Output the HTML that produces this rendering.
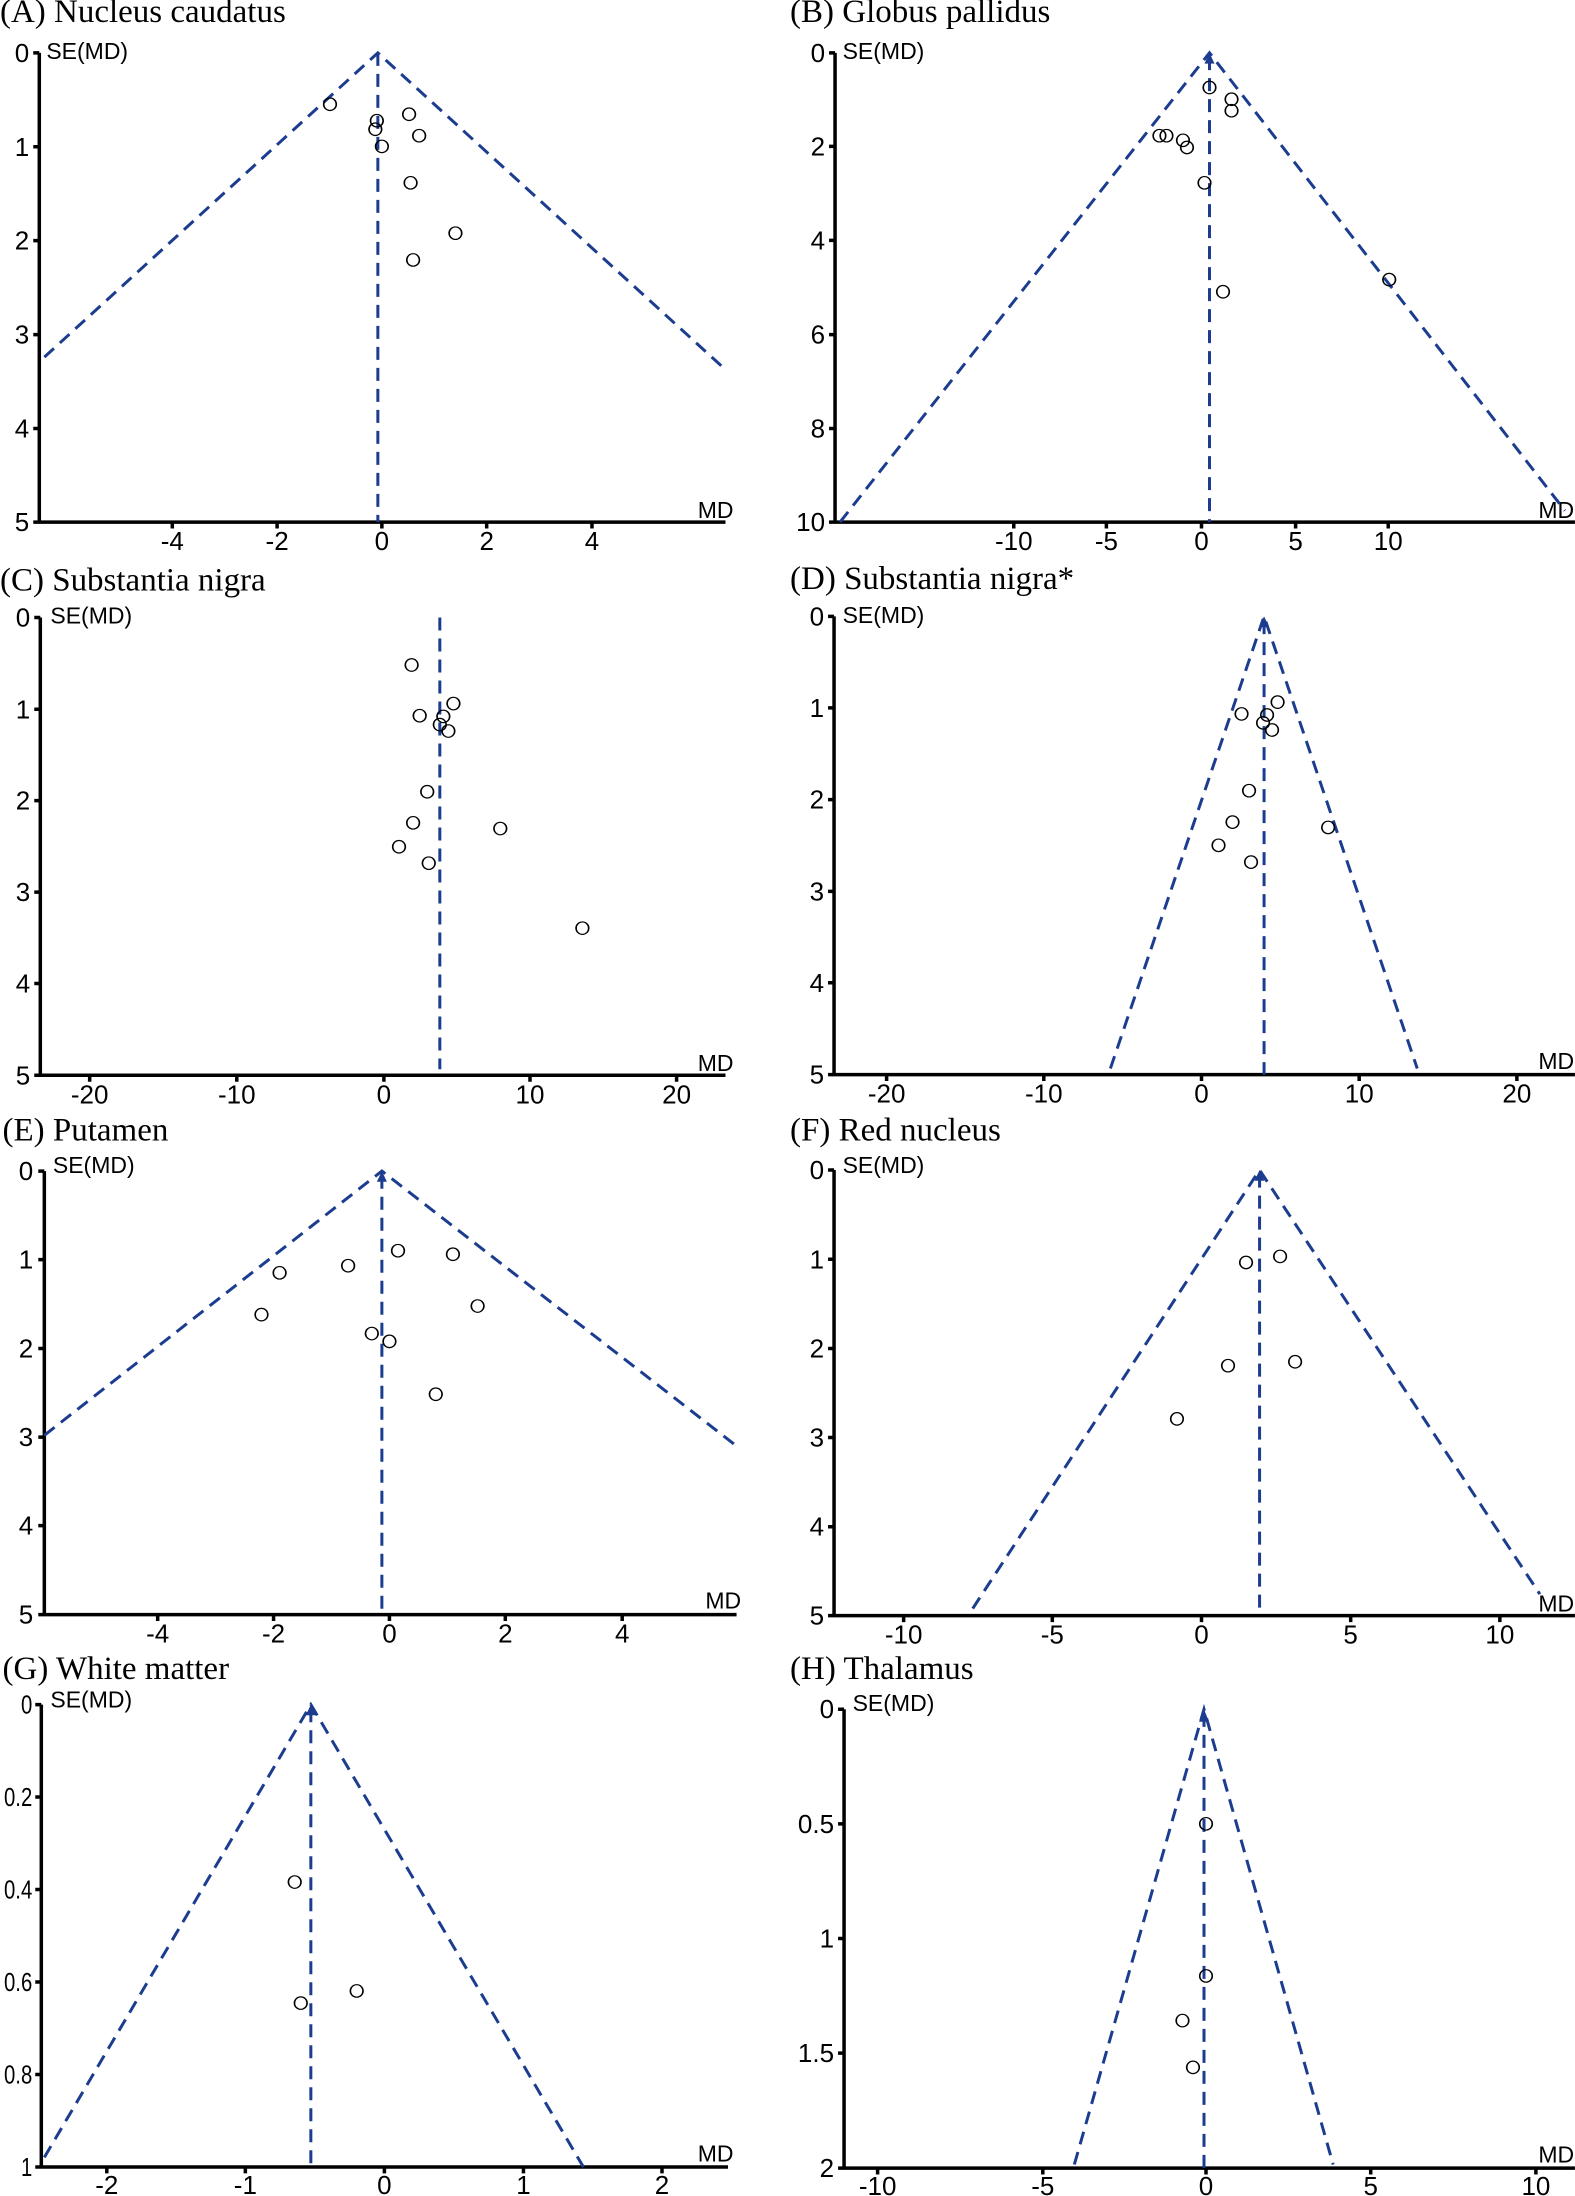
<!DOCTYPE html>
<html><head><meta charset="utf-8"><style>
html,body{margin:0;padding:0;background:#fff}
svg{display:block}
.ax{stroke:#000;stroke-width:3.5;fill:none;vector-effect:non-scaling-stroke}
.fn{stroke:#1c3d8f;stroke-width:3;stroke-dasharray:13 8;fill:none;vector-effect:non-scaling-stroke}
.pt{stroke:#000;stroke-width:3.3;fill:none;vector-effect:non-scaling-stroke}
.ar{fill:#1c3d8f}
.t{font-family:"Liberation Serif",serif;font-size:33px}
.l{font-family:"Liberation Sans",sans-serif;font-size:26px}
.s{font-family:"Liberation Sans",sans-serif;font-size:23px}
</style></head><body>
<svg width="1575" height="2196" viewBox="0 0 1575 2196" xmlns="http://www.w3.org/2000/svg">

<!-- A -->
<g transform="translate(0,0) scale(0.5038,0.3571)">
<text class="t" transform="translate(0,62) scale(1.985,2.8)">(A) Nucleus caudatus</text>
<text class="s" transform="translate(92,165) scale(1.985,2.8)">SE(MD)</text>
<text class="s" transform="translate(1385,1450) scale(1.985,2.8)">MD</text>
<path class="ax" d="M78,148V1462H1440M66,148H78M66,411H78M66,674H78M66,937H78M66,1200H78M66,1462H78M342,1462V1480M550,1462V1480M758,1462V1480M966,1462V1480M1175,1462V1480"/>
<g class="l" text-anchor="end">
<text transform="translate(58,148) scale(1.985,2.8)" dy="9">0</text>
<text transform="translate(58,411) scale(1.985,2.8)" dy="9">1</text>
<text transform="translate(58,674) scale(1.985,2.8)" dy="9">2</text>
<text transform="translate(58,937) scale(1.985,2.8)" dy="9">3</text>
<text transform="translate(58,1200) scale(1.985,2.8)" dy="9">4</text>
<text transform="translate(58,1462) scale(1.985,2.8)" dy="9">5</text>
</g>
<g class="l" text-anchor="middle">
<text transform="translate(342,1462) scale(1.985,2.8)" dy="28">-4</text>
<text transform="translate(550,1462) scale(1.985,2.8)" dy="28">-2</text>
<text transform="translate(758,1462) scale(1.985,2.8)" dy="28">0</text>
<text transform="translate(966,1462) scale(1.985,2.8)" dy="28">2</text>
<text transform="translate(1175,1462) scale(1.985,2.8)" dy="28">4</text>
</g>
<path class="fn" d="M88,1000L750,148L1440,1035M750,148V1462"/>
<g class="pt">
<ellipse cx="655" cy="292" rx="12.5" ry="17.5"/><ellipse cx="748" cy="338" rx="12.5" ry="17.5"/><ellipse cx="745" cy="362" rx="12.5" ry="17.5"/><ellipse cx="812" cy="320" rx="12.5" ry="17.5"/><ellipse cx="832" cy="380" rx="12.5" ry="17.5"/><ellipse cx="758" cy="410" rx="12.5" ry="17.5"/><ellipse cx="815" cy="512" rx="12.5" ry="17.5"/><ellipse cx="904" cy="653" rx="12.5" ry="17.5"/><ellipse cx="820" cy="728" rx="12.5" ry="17.5"/>
</g>
</g>

<!-- B -->
<g transform="translate(790,0) scale(0.5006,0.3571)">
<text class="t" transform="translate(0,62) scale(1.998,2.8)">(B) Globus pallidus</text>
<text class="s" transform="translate(105,165) scale(1.998,2.8)">SE(MD)</text>
<text class="s" transform="translate(1495,1450) scale(1.998,2.8)">MD</text>
<path class="ax" d="M90,148V1462H1568M78,148H90M78,410H90M78,673H90M78,937H90M78,1200H90M78,1462H90M447,1462V1480M632,1462V1480M822,1462V1480M1010,1462V1480M1195,1462V1480"/>
<g class="l" text-anchor="end">
<text transform="translate(70,148) scale(1.998,2.8)" dy="9">0</text>
<text transform="translate(70,410) scale(1.998,2.8)" dy="9">2</text>
<text transform="translate(70,673) scale(1.998,2.8)" dy="9">4</text>
<text transform="translate(70,937) scale(1.998,2.8)" dy="9">6</text>
<text transform="translate(70,1200) scale(1.998,2.8)" dy="9">8</text>
<text transform="translate(70,1462) scale(1.998,2.8)" dy="9">10</text>
</g>
<g class="l" text-anchor="middle">
<text transform="translate(447,1462) scale(1.998,2.8)" dy="28">-10</text>
<text transform="translate(632,1462) scale(1.998,2.8)" dy="28">-5</text>
<text transform="translate(822,1462) scale(1.998,2.8)" dy="28">0</text>
<text transform="translate(1010,1462) scale(1.998,2.8)" dy="28">5</text>
<text transform="translate(1195,1462) scale(1.998,2.8)" dy="28">10</text>
</g>
<path class="fn" d="M100,1462L838,148L1548,1430M838,160V1462"/>
<path class="ar" d="M838,148L828,178L848,178Z"/>
<g class="pt">
<ellipse cx="838" cy="245" rx="12.5" ry="17.5"/><ellipse cx="882" cy="278" rx="12.5" ry="17.5"/><ellipse cx="882" cy="310" rx="12.5" ry="17.5"/><ellipse cx="738" cy="380" rx="12.5" ry="17.5"/><ellipse cx="752" cy="380" rx="12.5" ry="17.5"/><ellipse cx="785" cy="393" rx="12.5" ry="17.5"/><ellipse cx="793" cy="413" rx="12.5" ry="17.5"/><ellipse cx="828" cy="512" rx="12.5" ry="17.5"/><ellipse cx="865" cy="817" rx="12.5" ry="17.5"/><ellipse cx="1197" cy="783" rx="12.5" ry="17.5"/>
</g>
</g>

<!-- C -->
<g transform="translate(0,555) scale(0.5038,0.3571)">
<text class="t" transform="translate(0,100) scale(1.985,2.8)">(C) Substantia nigra</text>
<text class="s" transform="translate(100,192) scale(1.985,2.8)">SE(MD)</text>
<text class="s" transform="translate(1385,1445) scale(1.985,2.8)">MD</text>
<path class="ax" d="M80,175V1457H1440M68,175H80M68,432H80M68,688H80M68,944H80M68,1200H80M68,1457H80M178,1457V1475M470,1457V1475M762,1457V1475M1052,1457V1475M1343,1457V1475"/>
<g class="l" text-anchor="end">
<text transform="translate(60,175) scale(1.985,2.8)" dy="9">0</text>
<text transform="translate(60,432) scale(1.985,2.8)" dy="9">1</text>
<text transform="translate(60,688) scale(1.985,2.8)" dy="9">2</text>
<text transform="translate(60,944) scale(1.985,2.8)" dy="9">3</text>
<text transform="translate(60,1200) scale(1.985,2.8)" dy="9">4</text>
<text transform="translate(60,1457) scale(1.985,2.8)" dy="9">5</text>
</g>
<g class="l" text-anchor="middle">
<text transform="translate(178,1457) scale(1.985,2.8)" dy="28">-20</text>
<text transform="translate(470,1457) scale(1.985,2.8)" dy="28">-10</text>
<text transform="translate(762,1457) scale(1.985,2.8)" dy="28">0</text>
<text transform="translate(1052,1457) scale(1.985,2.8)" dy="28">10</text>
<text transform="translate(1343,1457) scale(1.985,2.8)" dy="28">20</text>
</g>
<path class="fn" d="M873,175V1440"/>
<g class="pt">
<ellipse cx="817" cy="308" rx="12.5" ry="17.5"/><ellipse cx="900" cy="416" rx="12.5" ry="17.5"/><ellipse cx="833" cy="450" rx="12.5" ry="17.5"/><ellipse cx="880" cy="452" rx="12.5" ry="17.5"/><ellipse cx="873" cy="475" rx="12.5" ry="17.5"/><ellipse cx="890" cy="493" rx="12.5" ry="17.5"/><ellipse cx="848" cy="663" rx="12.5" ry="17.5"/><ellipse cx="820" cy="750" rx="12.5" ry="17.5"/><ellipse cx="993" cy="766" rx="12.5" ry="17.5"/><ellipse cx="792" cy="817" rx="12.5" ry="17.5"/><ellipse cx="851" cy="863" rx="12.5" ry="17.5"/><ellipse cx="1156" cy="1045" rx="12.5" ry="17.5"/>
</g>
</g>

<!-- D -->
<g transform="translate(790,555) scale(0.5006,0.3571)">
<text class="t" transform="translate(0,95) scale(1.998,2.8)">(D) Substantia nigra*</text>
<text class="s" transform="translate(105,190) scale(1.998,2.8)">SE(MD)</text>
<text class="s" transform="translate(1495,1440) scale(1.998,2.8)">MD</text>
<path class="ax" d="M88,172V1455H1568M76,172H88M76,428H88M76,685H88M76,942H88M76,1198H88M76,1455H88M193,1455V1473M507,1455V1473M822,1455V1473M1137,1455V1473M1452,1455V1473"/>
<g class="l" text-anchor="end">
<text transform="translate(68,172) scale(1.998,2.8)" dy="9">0</text>
<text transform="translate(68,428) scale(1.998,2.8)" dy="9">1</text>
<text transform="translate(68,685) scale(1.998,2.8)" dy="9">2</text>
<text transform="translate(68,942) scale(1.998,2.8)" dy="9">3</text>
<text transform="translate(68,1198) scale(1.998,2.8)" dy="9">4</text>
<text transform="translate(68,1455) scale(1.998,2.8)" dy="9">5</text>
</g>
<g class="l" text-anchor="middle">
<text transform="translate(193,1455) scale(1.998,2.8)" dy="28">-20</text>
<text transform="translate(507,1455) scale(1.998,2.8)" dy="28">-10</text>
<text transform="translate(822,1455) scale(1.998,2.8)" dy="28">0</text>
<text transform="translate(1137,1455) scale(1.998,2.8)" dy="28">10</text>
<text transform="translate(1452,1455) scale(1.998,2.8)" dy="28">20</text>
</g>
<path class="fn" d="M640,1438L947,172L1253,1438M947,185V1455"/>
<path class="ar" d="M947,172L937,202L957,202Z"/>
<g class="pt">
<ellipse cx="902" cy="445" rx="12.5" ry="17.5"/><ellipse cx="974" cy="412" rx="12.5" ry="17.5"/><ellipse cx="953" cy="448" rx="12.5" ry="17.5"/><ellipse cx="945" cy="470" rx="12.5" ry="17.5"/><ellipse cx="963" cy="490" rx="12.5" ry="17.5"/><ellipse cx="917" cy="660" rx="12.5" ry="17.5"/><ellipse cx="884" cy="748" rx="12.5" ry="17.5"/><ellipse cx="1075" cy="763" rx="12.5" ry="17.5"/><ellipse cx="856" cy="813" rx="12.5" ry="17.5"/><ellipse cx="921" cy="860" rx="12.5" ry="17.5"/>
</g>
</g>

<!-- E -->
<g transform="translate(0,1105) scale(0.5038,0.3571)">
<text class="t" transform="translate(5,100) scale(1.985,2.8)">(E) Putamen</text>
<text class="s" transform="translate(105,190) scale(1.985,2.8)">SE(MD)</text>
<text class="s" transform="translate(1400,1410) scale(1.985,2.8)">MD</text>
<path class="ax" d="M88,185V1427H1462M76,185H88M76,433H88M76,682H88M76,930H88M76,1178H88M76,1427H88M313,1427V1445M543,1427V1445M773,1427V1445M1003,1427V1445M1235,1427V1445"/>
<g class="l" text-anchor="end">
<text transform="translate(66,185) scale(1.985,2.8)" dy="9">0</text>
<text transform="translate(66,433) scale(1.985,2.8)" dy="9">1</text>
<text transform="translate(66,682) scale(1.985,2.8)" dy="9">2</text>
<text transform="translate(66,930) scale(1.985,2.8)" dy="9">3</text>
<text transform="translate(66,1178) scale(1.985,2.8)" dy="9">4</text>
<text transform="translate(66,1427) scale(1.985,2.8)" dy="9">5</text>
</g>
<g class="l" text-anchor="middle">
<text transform="translate(313,1427) scale(1.985,2.8)" dy="28">-4</text>
<text transform="translate(543,1427) scale(1.985,2.8)" dy="28">-2</text>
<text transform="translate(773,1427) scale(1.985,2.8)" dy="28">0</text>
<text transform="translate(1003,1427) scale(1.985,2.8)" dy="28">2</text>
<text transform="translate(1235,1427) scale(1.985,2.8)" dy="28">4</text>
</g>
<path class="fn" d="M88,925L758,185L1462,955M758,198V1427"/>
<path class="ar" d="M758,185L748,215L768,215Z"/>
<g class="pt">
<ellipse cx="519" cy="587" rx="12.5" ry="17.5"/><ellipse cx="555" cy="470" rx="12.5" ry="17.5"/><ellipse cx="691" cy="450" rx="12.5" ry="17.5"/><ellipse cx="790" cy="408" rx="12.5" ry="17.5"/><ellipse cx="899" cy="418" rx="12.5" ry="17.5"/><ellipse cx="948" cy="563" rx="12.5" ry="17.5"/><ellipse cx="738" cy="640" rx="12.5" ry="17.5"/><ellipse cx="773" cy="662" rx="12.5" ry="17.5"/><ellipse cx="865" cy="810" rx="12.5" ry="17.5"/>
</g>
</g>

<!-- F -->
<g transform="translate(790,1105) scale(0.5006,0.3571)">
<text class="t" transform="translate(0,100) scale(1.998,2.8)">(F) Red nucleus</text>
<text class="s" transform="translate(105,190) scale(1.998,2.8)">SE(MD)</text>
<text class="s" transform="translate(1495,1418) scale(1.998,2.8)">MD</text>
<path class="ax" d="M88,182V1430H1568M76,182H88M76,432H88M76,682H88M76,931H88M76,1181H88M76,1430H88M227,1430V1448M524,1430V1448M822,1430V1448M1120,1430V1448M1418,1430V1448"/>
<g class="l" text-anchor="end">
<text transform="translate(68,182) scale(1.998,2.8)" dy="9">0</text>
<text transform="translate(68,432) scale(1.998,2.8)" dy="9">1</text>
<text transform="translate(68,682) scale(1.998,2.8)" dy="9">2</text>
<text transform="translate(68,931) scale(1.998,2.8)" dy="9">3</text>
<text transform="translate(68,1181) scale(1.998,2.8)" dy="9">4</text>
<text transform="translate(68,1430) scale(1.998,2.8)" dy="9">5</text>
</g>
<g class="l" text-anchor="middle">
<text transform="translate(227,1430) scale(1.998,2.8)" dy="28">-10</text>
<text transform="translate(524,1430) scale(1.998,2.8)" dy="28">-5</text>
<text transform="translate(822,1430) scale(1.998,2.8)" dy="28">0</text>
<text transform="translate(1120,1430) scale(1.998,2.8)" dy="28">5</text>
<text transform="translate(1418,1430) scale(1.998,2.8)" dy="28">10</text>
</g>
<path class="fn" d="M365,1410L938,182L1498,1370M938,195V1430"/>
<path class="ar" d="M938,182L928,212L948,212Z"/>
<g class="pt">
<ellipse cx="911" cy="441" rx="12.5" ry="17.5"/><ellipse cx="979" cy="424" rx="12.5" ry="17.5"/><ellipse cx="875" cy="730" rx="12.5" ry="17.5"/><ellipse cx="1009" cy="719" rx="12.5" ry="17.5"/><ellipse cx="773" cy="879" rx="12.5" ry="17.5"/>
</g>
</g>

<!-- G -->
<g transform="translate(0,1636) scale(0.5038,0.3571)">
<text class="t" transform="translate(5,120) scale(1.985,2.8)">(G) White matter</text>
<text class="s" transform="translate(100,200) scale(1.985,2.8)">SE(MD)</text>
<text class="s" transform="translate(1385,1472) scale(1.985,2.8)">MD</text>
<path class="ax" d="M82,192V1487H1445M70,192H82M70,451H82M70,710H82M70,969H82M70,1228H82M70,1487H82M212,1487V1505M487,1487V1505M763,1487V1505M1039,1487V1505M1314,1487V1505"/>
<g class="l" text-anchor="end">
<text transform="translate(64,192) scale(1.55,2.8)" dy="9">0</text>
<text transform="translate(64,451) scale(1.55,2.8)" dy="9">0.2</text>
<text transform="translate(64,710) scale(1.55,2.8)" dy="9">0.4</text>
<text transform="translate(64,969) scale(1.55,2.8)" dy="9">0.6</text>
<text transform="translate(64,1228) scale(1.55,2.8)" dy="9">0.8</text>
<text transform="translate(64,1487) scale(1.55,2.8)" dy="9">1</text>
</g>
<g class="l" text-anchor="middle">
<text transform="translate(212,1487) scale(1.985,2.8)" dy="27">-2</text>
<text transform="translate(487,1487) scale(1.985,2.8)" dy="27">-1</text>
<text transform="translate(763,1487) scale(1.985,2.8)" dy="27">0</text>
<text transform="translate(1039,1487) scale(1.985,2.8)" dy="27">1</text>
<text transform="translate(1314,1487) scale(1.985,2.8)" dy="27">2</text>
</g>
<path class="fn" d="M88,1460L617,192L1158,1487M617,205V1487"/>
<path class="ar" d="M617,192L607,222L627,222Z"/>
<g class="pt">
<ellipse cx="585" cy="689" rx="12.5" ry="17.5"/><ellipse cx="708" cy="994" rx="12.5" ry="17.5"/><ellipse cx="597" cy="1028" rx="12.5" ry="17.5"/>
</g>
</g>

<!-- H -->
<g transform="translate(790,1636) scale(0.5006,0.3571)">
<text class="t" transform="translate(0,120) scale(1.998,2.8)">(H) Thalamus</text>
<text class="s" transform="translate(125,210) scale(1.998,2.8)">SE(MD)</text>
<text class="s" transform="translate(1495,1475) scale(1.998,2.8)">MD</text>
<path class="ax" d="M108,205V1490H1568M96,205H108M96,526H108M96,847H108M96,1168H108M96,1490H108M175,1490V1508M505,1490V1508M831,1490V1508M1160,1490V1508M1490,1490V1508"/>
<g class="l" text-anchor="end">
<text transform="translate(88,205) scale(1.998,2.8)" dy="9">0</text>
<text transform="translate(88,526) scale(1.998,2.8)" dy="9">0.5</text>
<text transform="translate(88,847) scale(1.998,2.8)" dy="9">1</text>
<text transform="translate(88,1168) scale(1.998,2.8)" dy="9">1.5</text>
<text transform="translate(88,1490) scale(1.998,2.8)" dy="9">2</text>
</g>
<g class="l" text-anchor="middle">
<text transform="translate(175,1490) scale(1.998,2.8)" dy="27">-10</text>
<text transform="translate(505,1490) scale(1.998,2.8)" dy="27">-5</text>
<text transform="translate(831,1490) scale(1.998,2.8)" dy="27">0</text>
<text transform="translate(1160,1490) scale(1.998,2.8)" dy="27">5</text>
<text transform="translate(1490,1490) scale(1.998,2.8)" dy="27">10</text>
</g>
<path class="fn" d="M568,1480L827,205L1085,1480M827,218V1490"/>
<path class="ar" d="M827,205L817,240L837,240Z"/>
<g class="pt">
<ellipse cx="831" cy="526" rx="12.5" ry="17.5"/><ellipse cx="831" cy="952" rx="12.5" ry="17.5"/><ellipse cx="784" cy="1077" rx="12.5" ry="17.5"/><ellipse cx="805" cy="1208" rx="12.5" ry="17.5"/>
</g>
</g>

</svg>
</body></html>
